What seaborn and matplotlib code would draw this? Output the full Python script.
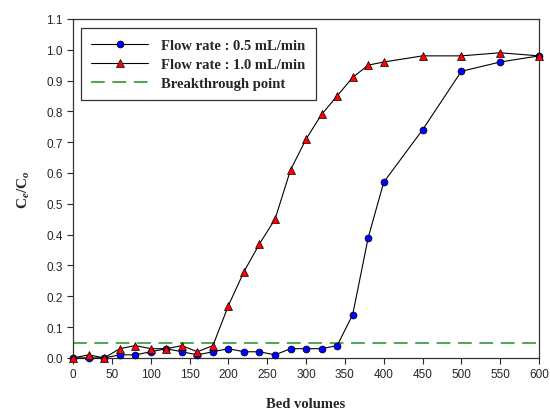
import numpy as np
import pandas as pd
import seaborn as sns
import matplotlib.pyplot as plt

bed_volumes = [0, 20, 40, 60, 80, 100, 120, 140, 160, 180, 200, 220, 240, 260, 280,
               300, 320, 340, 360, 380, 400, 450, 500, 550, 600]
flow_05 = [0.0, 0.0, 0.0, 0.01, 0.01, 0.02, 0.03, 0.02, 0.01, 0.02, 0.03, 0.02, 0.02, 0.01, 0.03,
           0.03, 0.03, 0.04, 0.14, 0.39, 0.57, 0.74, 0.93, 0.96, 0.98]
flow_10 = [0.0, 0.01, 0.0, 0.03, 0.04, 0.03, 0.03, 0.04, 0.02, 0.04, 0.17, 0.28, 0.37, 0.45, 0.61,
           0.71, 0.79, 0.85, 0.91, 0.95, 0.96, 0.98, 0.98, 0.99, 0.98]
breakthrough = 0.05

df = pd.DataFrame({'bv': bed_volumes, 'f05': flow_05, 'f10': flow_10})

sns.set_style('ticks')
plt.rcParams['font.family'] = ['Liberation Sans', 'DejaVu Sans']
plt.rcParams['mathtext.fontset'] = 'custom'
plt.rcParams['mathtext.rm'] = 'Liberation Serif:bold'
plt.rcParams['mathtext.it'] = 'Liberation Serif:bold:italic'

fig = plt.figure(figsize=(5.5, 4.14), dpi=100)
ax = fig.add_axes([0.133, 0.133, 0.847, 0.819])

sns.lineplot(data=df, x='bv', y='f05', ax=ax, color='black', lw=0.8, marker='o', markersize=5,
             markerfacecolor='#0000ff', markeredgecolor='black', markeredgewidth=0.5,
             label='Flow rate : 0.5 mL/min', clip_on=False, zorder=3)
sns.lineplot(data=df, x='bv', y='f10', ax=ax, color='black', lw=0.8, marker='^', markersize=5.5,
             markerfacecolor='#ff0000', markeredgecolor='black', markeredgewidth=0.5,
             label='Flow rate : 1.0 mL/min', clip_on=False, zorder=3)
ax.axhline(breakthrough, color='#1f8f1f', lw=1.1, dashes=(9, 5), label='Breakthrough point')

ax.set_xlim(0, 600)
ax.set_ylim(0, 1.1)
ax.set_xticks(np.arange(0, 601, 50))
ax.set_yticks(np.arange(0, 1.11, 0.1))
ax.set_yticklabels([f'{v:.1f}' for v in np.arange(0, 1.11, 0.1)])
ax.tick_params(labelsize=8.5, length=4, width=0.8, direction='out')
for s in ax.spines.values():
    s.set_linewidth(0.9)
    s.set_color('#333333')

ax.set_xlabel('Bed volumes', family='Liberation Serif', weight='bold', fontsize=10.5, labelpad=12)
ax.set_ylabel(r'C$_e$/C$_o$', family='Liberation Serif', weight='bold', fontsize=11, labelpad=10)

leg = ax.legend(loc='upper left', bbox_to_anchor=(0.008, 0.985), frameon=True, fancybox=False,
                edgecolor='black', handlelength=3.9, handletextpad=0.9, borderpad=0.7,
                labelspacing=0.4, borderaxespad=0.3,
                prop={'family': 'Liberation Serif', 'weight': 'bold', 'size': 10.5})
leg.get_frame().set_linewidth(0.9)

plt.savefig('out.png', dpi=100)
